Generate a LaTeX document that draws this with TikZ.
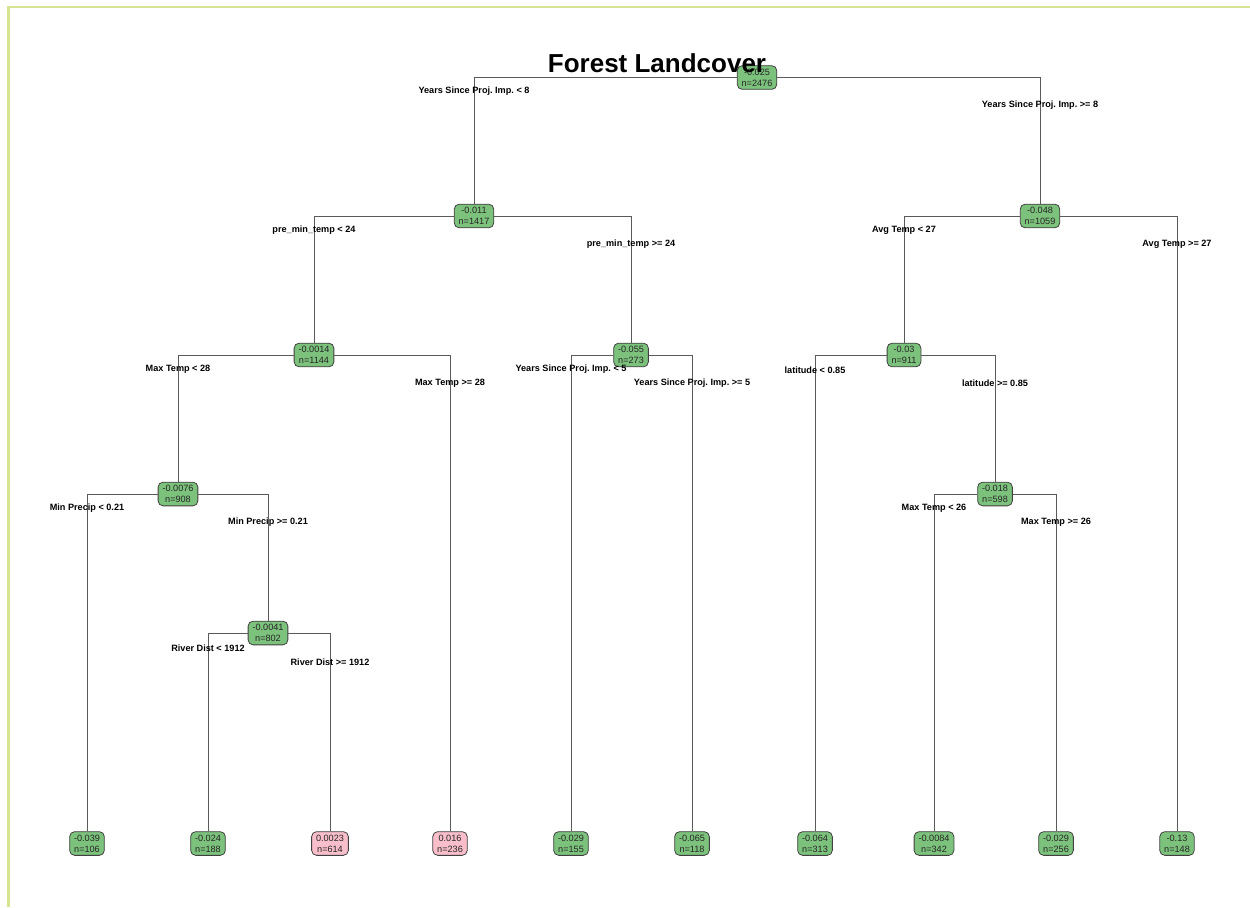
\documentclass[tikz,border=0pt]{standalone}
\usepackage{fontspec}
\setmainfont{Liberation Sans}
\frenchspacing
\definecolor{leafgreen}{RGB}{124,194,124}
\definecolor{leafpink}{RGB}{248,190,202}
\definecolor{frame}{RGB}{214,228,146}
\definecolor{edgegray}{RGB}{90,90,90}
\tikzset{
  tnode/.style={draw=black!75, rounded corners=2.8pt, line width=0.45pt, align=center,
    inner xsep=2.5pt, inner ysep=1.8pt, font=\fontsize{5.2}{6.2}\selectfont, text=black!85},
  gnode/.style={tnode, fill=leafgreen},
  pnode/.style={tnode, fill=leafpink},
  lab/.style={font=\fontsize{5.2}{6.2}\selectfont\bfseries, inner sep=0pt},
  edge/.style={draw=edgegray, line width=0.45pt},
}
\begin{document}
\begin{tikzpicture}[x=0.02cm, y=-0.02cm]
\useasboundingbox (0,0) rectangle (1250,907);
% frame
\draw[frame, line width=1.7pt] (8.5,907) -- (8.5,7) -- (1250,7);
% nodes
\node[gnode] (n1) at (757,77.5) {-0.025\\n=2476};
\node[gnode] (n2) at (474,216) {-0.011\\n=1417};
\node[gnode] (n3) at (1040,216) {-0.048\\n=1059};
\node[gnode] (n4) at (314,355) {-0.0014\\n=1144};
\node[gnode] (n5) at (631,355) {-0.055\\n=273};
\node[gnode] (n6) at (904,355) {-0.03\\n=911};
\node[gnode] (n7) at (178,494) {-0.0076\\n=908};
\node[gnode] (n9) at (995,494) {-0.018\\n=598};
\node[gnode] (n8) at (268,633) {-0.0041\\n=802};
% leaves
\node[gnode] (l1) at (87,843.5) {-0.039\\n=106};
\node[gnode] (l2) at (208,843.5) {-0.024\\n=188};
\node[pnode] (l3) at (330,843.5) {0.0023\\n=614};
\node[pnode] (l4) at (450,843.5) {0.016\\n=236};
\node[gnode] (l5) at (571,843.5) {-0.029\\n=155};
\node[gnode] (l6) at (692,843.5) {-0.065\\n=118};
\node[gnode] (l7) at (815,843.5) {-0.064\\n=313};
\node[gnode] (l8) at (934,843.5) {-0.0084\\n=342};
\node[gnode] (l9) at (1056,843.5) {-0.029\\n=256};
\node[gnode] (l10) at (1177,843.5) {-0.13\\n=148};
% edges
\path[edge] (n2.north) |- (n1.west);
\path[edge] (n1.east) -| (n3.north);
\path[edge] (n4.north) |- (n2.west);
\path[edge] (n2.east) -| (n5.north);
\path[edge] (n6.north) |- (n3.west);
\path[edge] (n3.east) -| (l10.north);
\path[edge] (n7.north) |- (n4.west);
\path[edge] (n4.east) -| (l4.north);
\path[edge] (l5.north) |- (n5.west);
\path[edge] (n5.east) -| (l6.north);
\path[edge] (l7.north) |- (n6.west);
\path[edge] (n6.east) -| (n9.north);
\path[edge] (l1.north) |- (n7.west);
\path[edge] (n7.east) -| (n8.north);
\path[edge] (l2.north) |- (n8.west);
\path[edge] (n8.east) -| (l3.north);
\path[edge] (l8.north) |- (n9.west);
\path[edge] (n9.east) -| (l9.north);
% split labels
\node[lab] (s1) at (474,91) {Years Since Proj. Imp. < 8};
\node[lab] (s2) at (1040,105) {Years Since Proj. Imp. >= 8};
\node[lab] (s3) at (314,230) {pre\_min\_temp < 24};
\node[lab] (s4) at (631,244) {pre\_min\_temp >= 24};
\node[lab] (s5) at (904,230) {Avg Temp < 27};
\node[lab] (s6) at (1177,244) {Avg Temp >= 27};
\node[lab] (s7) at (178,369) {Max Temp < 28};
\node[lab] (s8) at (450,383) {Max Temp >= 28};
\node[lab] (s9) at (571,369) {Years Since Proj. Imp. < 5};
\node[lab] (s10) at (692,383) {Years Since Proj. Imp. >= 5};
\node[lab] (s11) at (815,370) {latitude < 0.85};
\node[lab] (s12) at (995,383) {latitude >= 0.85};
\node[lab] (s13) at (87,508) {Min Precip < 0.21};
\node[lab] (s14) at (268,522) {Min Precip >= 0.21};
\node[lab] (s15) at (934,508) {Max Temp < 26};
\node[lab] (s16) at (1056,522) {Max Temp >= 26};
\node[lab] (s17) at (208,648) {River Dist < 1912};
\node[lab] (s18) at (330,662) {River Dist >= 1912};
% title
\node[anchor=base, inner sep=0pt, font=\fontsize{14.8}{16}\selectfont\bfseries] (title) at (657,72.3) {Forest Landcover};
\end{tikzpicture}
\end{document}
